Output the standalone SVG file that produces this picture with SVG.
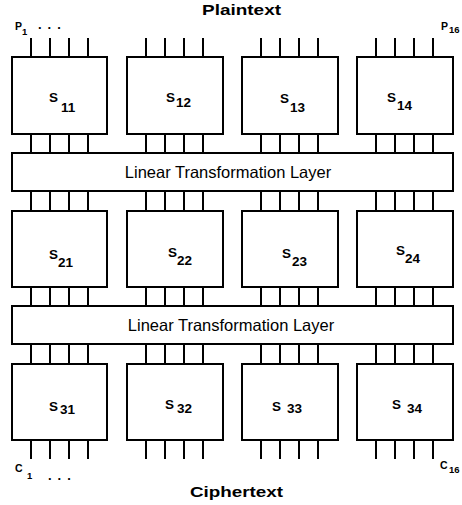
<svg xmlns="http://www.w3.org/2000/svg" width="462" height="505" viewBox="0 0 462 505">
<style>
.box{fill:#fff;stroke:#000;stroke-width:2}
.w{stroke:#000;stroke-width:2;fill:none}
.t{font-family:"Liberation Sans",Arial,sans-serif;fill:#000}
.b{font-weight:bold}
.lt{font-size:16.5px;text-anchor:middle}
.s{font-size:13.5px;font-weight:bold}
.sub{font-size:13.5px;font-weight:bold}
.lab{font-size:10.5px;font-weight:bold}
.labs{font-size:9.5px;font-weight:bold}
</style>
<defs>
<path id="w4" class="w" d="M19,0v19M38,0v19M57,0v19M76,0v19"/>
</defs>
<g id="connectors">
<use href="#w4" x="12" y="38"/><use href="#w4" x="127" y="38"/><use href="#w4" x="242" y="38"/><use href="#w4" x="357" y="38"/>
<use href="#w4" x="12" y="134"/><use href="#w4" x="127" y="134"/><use href="#w4" x="242" y="134"/><use href="#w4" x="357" y="134"/>
<use href="#w4" x="12" y="191"/><use href="#w4" x="127" y="191"/><use href="#w4" x="242" y="191"/><use href="#w4" x="357" y="191"/>
<use href="#w4" x="12" y="287"/><use href="#w4" x="127" y="287"/><use href="#w4" x="242" y="287"/><use href="#w4" x="357" y="287"/>
<use href="#w4" x="12" y="344"/><use href="#w4" x="127" y="344"/><use href="#w4" x="242" y="344"/><use href="#w4" x="357" y="344"/>
<use href="#w4" x="12" y="440"/><use href="#w4" x="127" y="440"/><use href="#w4" x="242" y="440"/><use href="#w4" x="357" y="440"/>
</g>
<g id="S11"><rect class="box" x="12" y="57" width="95" height="77"/><text class="t s" x="49" y="102">S</text><text class="t sub" x="61" y="112">11</text></g>
<g id="S12"><rect class="box" x="127" y="57" width="96" height="77"/><text class="t s" x="166" y="102">S</text><text class="t sub" x="176" y="107">12</text></g>
<g id="S13"><rect class="box" x="242" y="57" width="96" height="77"/><text class="t s" x="280" y="103">S</text><text class="t sub" x="290" y="112">13</text></g>
<g id="S14"><rect class="box" x="357" y="57" width="96" height="77"/><text class="t s" x="387" y="102">S</text><text class="t sub" x="397" y="110">14</text></g>
<g id="LT1"><rect class="box" x="12" y="153" width="441" height="38"/><text class="t lt" x="228" y="177.5">Linear Transformation Layer</text></g>
<g id="S21"><rect class="box" x="12" y="211" width="95" height="76"/><text class="t s" x="49" y="259">S</text><text class="t sub" x="58" y="267">21</text></g>
<g id="S22"><rect class="box" x="127" y="211" width="96" height="76"/><text class="t s" x="168" y="257">S</text><text class="t sub" x="177" y="265">22</text></g>
<g id="S23"><rect class="box" x="242" y="211" width="96" height="76"/><text class="t s" x="282" y="258">S</text><text class="t sub" x="292" y="266">23</text></g>
<g id="S24"><rect class="box" x="357" y="211" width="96" height="76"/><text class="t s" x="396" y="255">S</text><text class="t sub" x="405" y="263">24</text></g>
<g id="LT2"><rect class="box" x="12" y="306" width="441" height="38"/><text class="t lt" x="231" y="331">Linear Transformation Layer</text></g>
<g id="S31"><rect class="box" x="12" y="364" width="95" height="76"/><text class="t s" x="49" y="411">S</text><text class="t sub" x="60" y="414">31</text></g>
<g id="S32"><rect class="box" x="127" y="364" width="96" height="76"/><text class="t s" x="165" y="409">S</text><text class="t sub" x="177" y="413">32</text></g>
<g id="S33"><rect class="box" x="242" y="364" width="96" height="76"/><text class="t s" x="272" y="411">S</text><text class="t sub" x="287" y="413">33</text></g>
<g id="S34"><rect class="box" x="357" y="364" width="96" height="76"/><text class="t s" x="392" y="409">S</text><text class="t sub" x="407" y="413">34</text></g>
<g id="labels">
<text class="t b" x="241.5" y="15" font-size="15" text-anchor="middle" textLength="79" lengthAdjust="spacingAndGlyphs">Plaintext</text>
<text class="t b" x="236.5" y="497" font-size="15" text-anchor="middle" textLength="93" lengthAdjust="spacingAndGlyphs">Ciphertext</text>
<text class="t lab" x="15" y="30">P</text><text class="t labs" x="22" y="35">1</text>
<text class="t b" x="38" y="29" font-size="13" letter-spacing="6">...</text>
<text class="t lab" x="441" y="30">P</text><text class="t labs" x="449" y="33">16</text>
<text class="t lab" x="15" y="472">C</text><text class="t labs" x="27" y="479">1</text>
<text class="t b" x="48" y="480" font-size="13" letter-spacing="6">...</text>
<text class="t lab" x="440" y="469">C</text><text class="t labs" x="449" y="473">16</text>
</g>
</svg>
